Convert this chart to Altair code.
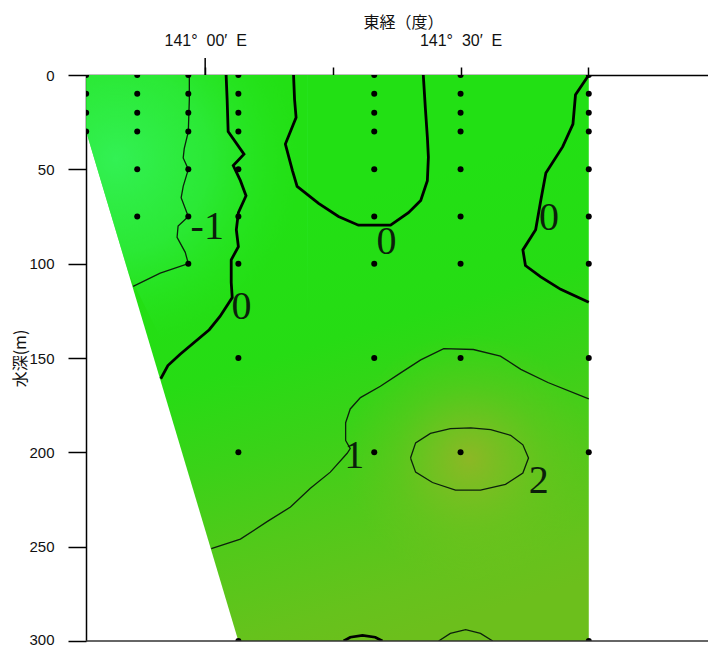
import json
import altair as alt
import pandas as pd

# ---------------- data ----------------
LON_MIN, LON_MAX = 140.7667, 141.9844
DEPTH_MAX = 300

NB = "\u00a0"
x_tick_values = [141.0, 141.25, 141.5, 141.75]
x_tick_labels = [f"141°{NB}{NB}00′{NB}{NB}E", "", f"141°{NB}{NB}30′{NB}{NB}E", ""]
y_tick_values = [0, 50, 100, 150, 200, 250, 300]

# observation stations (longitude) and their sampled depths (m)
station_lon = [140.767, 140.867, 140.967, 141.065, 141.331, 141.5, 141.751]
station_depths = [
    [0, 10, 20, 30],
    [0, 10, 20, 30, 50, 75],
    [0, 10, 20, 30, 50, 75, 100],
    [0, 10, 20, 30, 50, 75, 100, 150, 200, 300],
    [0, 10, 20, 30, 50, 75, 100, 150, 200],
    [0, 10, 20, 30, 50, 75, 100, 150, 200],
    [0, 10, 20, 30, 50, 75, 100, 150, 200, 300],
]

# section outline (sea floor on the west side)
region_lon = [140.767, 141.065, 141.751]
region_bottom = [30, 300, 300]

# shading zones
cold_lon = [140.767, 140.85, 140.95, 141.05, 141.2]
cold_bottom = [30, 105, 160, 165, 165]
warm_lon = [141.25, 141.751]
warm_top = [100, 100]
warm_bottom = [300, 300]

# contour lines (lon, depth)
c_m1_lon = [140.969, 140.969, 140.967, 140.959, 140.957, 140.967, 140.957, 140.953,
            140.967, 140.947, 140.945, 140.961, 140.967, 140.912, 140.859]
c_m1_dep = [0, 13, 30, 39, 44, 50, 59, 65, 75, 80, 86, 94, 100, 105, 112]

c_0a_lon = [141.041, 141.043, 141.045, 141.076, 141.055, 141.069, 141.080, 141.065,
            141.061, 141.065, 141.051, 141.051, 141.053, 141.029, 141.008, 140.951,
            140.927, 140.913]
c_0a_dep = [0, 13, 30, 42, 48, 56, 64, 73, 82, 91, 98, 110, 118, 128, 135, 148, 154, 161]

c_0b_lon = [141.173, 141.175, 141.178, 141.157, 141.171, 141.180, 141.222, 141.261,
            141.300, 141.363, 141.398, 141.422, 141.435, 141.437, 141.435, 141.431, 141.427]
c_0b_dep = [0, 13, 22.5, 36.6, 50.8, 59, 68, 75, 79.6, 79.6, 73, 66.5, 56, 43.5, 33, 17.3, 0]

c_0c_lon = [141.751, 141.725, 141.720, 141.700, 141.667, 141.657, 141.647, 141.622,
            141.627, 141.657, 141.696, 141.751]
c_0c_dep = [0, 10.5, 26, 38, 52, 66.5, 82, 92.7, 101, 107, 113.6, 120.4]

c_1_lon = [141.012, 141.069, 141.122, 141.167, 141.206, 141.245, 141.278, 141.284,
           141.275, 141.275, 141.284, 141.304, 141.343, 141.382, 141.422, 141.467,
           141.525, 141.578, 141.618, 141.671, 141.751]
c_1_dep = [251, 246, 236.6, 229, 219, 210.5, 200.5, 198, 193.7, 184.3, 177, 171, 165,
           158, 151, 145, 145.5, 149, 156, 163, 171.7]

c_2_lon = [141.402, 141.412, 141.441, 141.480, 141.520, 141.559, 141.598, 141.622,
           141.633, 141.622, 141.588, 141.539, 141.490, 141.445, 141.412, 141.402]
c_2_dep = [203, 195, 190, 187.4, 187, 188, 191, 196, 203, 211, 217, 220, 220, 216, 210.5, 203]

c_b1_lon = [141.271, 141.284, 141.308, 141.333, 141.347]
c_b1_dep = [300, 298, 297, 298, 300]
c_b2_lon = [141.457, 141.480, 141.510, 141.539, 141.563]
c_b2_dep = [300, 296, 294, 296, 300]

label_text = ["-1", "0", "0", "0", "1", "2"]
label_lon = [141.004, 141.071, 141.355, 141.673, 141.292, 141.653]
label_dep = [80.6, 123, 88.5, 76, 202, 215]

# ---------------- tables ----------------
stations = pd.DataFrame(
    [(lon, d) for lon, ds in zip(station_lon, station_depths) for d in ds],
    columns=["lon", "depth"],
)
region = pd.DataFrame({"lon": region_lon, "top": [0] * len(region_lon), "bottom": region_bottom})
cold = pd.DataFrame({"lon": cold_lon, "top": [0] * len(cold_lon), "bottom": cold_bottom})
warm = pd.DataFrame({"lon": warm_lon, "top": warm_top, "bottom": warm_bottom})


def contour_table(lines):
    rows = []
    for cid, (lons, deps) in lines.items():
        for i, (lo, de) in enumerate(zip(lons, deps)):
            rows.append({"id": cid, "seq": i, "lon": lo, "depth": de})
    return pd.DataFrame(rows)


thick = contour_table({"0a": (c_0a_lon, c_0a_dep), "0b": (c_0b_lon, c_0b_dep),
                       "0c": (c_0c_lon, c_0c_dep), "b1": (c_b1_lon, c_b1_dep)})
thin = contour_table({"m1": (c_m1_lon, c_m1_dep), "1": (c_1_lon, c_1_dep),
                      "2": (c_2_lon, c_2_dep), "b2": (c_b2_lon, c_b2_dep)})
labels = pd.DataFrame({"text": label_text, "lon": label_lon, "depth": label_dep})

# ---------------- axes / scales ----------------
PLOT_W, PLOT_H = 622, 566

label_expr = (f"{json.dumps(x_tick_labels, ensure_ascii=False)}"
              f"[indexof({json.dumps(x_tick_values)}, datum.value)]")

x_axis = alt.Axis(
    orient="top", values=x_tick_values, labelExpr=label_expr,
    title="東経（度）", titleFont="Noto Sans CJK JP", titleFontSize=16,
    titleFontWeight="normal", titleColor="#111", titleX=317, titleY=-53,
    titleAlign="center", titleBaseline="middle", titleAngle=0,
    tickSize=8, tickColor="black", tickWidth=1.5,
    domainColor="black", domainWidth=1.5,
    labelFont="Liberation Sans", labelFontSize=16, labelColor="#111",
    labelPadding=22, labelBaseline="alphabetic", labelFlush=False,
    labelOverlap=False, grid=False,
)
y_axis = alt.Axis(
    orient="left", values=y_tick_values,
    title="水深(m)", titleFont="Noto Sans CJK JP", titleFontSize=16,
    titleFontWeight="normal", titleColor="#111", titleX=-66, titleY=PLOT_H / 2,
    titleAngle=270, titleAlign="center", titleBaseline="middle",
    tickSize=18, tickColor="black", tickWidth=1.5,
    domainColor="black", domainWidth=1.5,
    labelFont="Liberation Sans", labelFontSize=15, labelColor="#111",
    labelOffset={"condition": {"test": f"datum.value == {DEPTH_MAX}", "value": -2}, "value": 0},
    labelPadding=14, labelFlush=False, grid=False,
)
x_scale = alt.Scale(domain=[LON_MIN, LON_MAX], nice=False, zero=False)
y_scale = alt.Scale(domain=[0, DEPTH_MAX], nice=False, zero=False, reverse=True)


def X(field):
    return alt.X(f"{field}:Q", scale=x_scale, axis=x_axis)


def Y(field):
    return alt.Y(f"{field}:Q", scale=y_scale, axis=y_axis)


base_fill = {
    "gradient": "linear", "x1": 0.4, "y1": 0.25, "x2": 0.6, "y2": 1.0,
    "stops": [
        {"offset": 0.0, "color": "#22e014"},
        {"offset": 0.3, "color": "#26dc14"},
        {"offset": 0.5, "color": "#3ad218"},
        {"offset": 0.7, "color": "#52c91a"},
        {"offset": 0.9, "color": "#66c21c"},
        {"offset": 1.0, "color": "#6cbf1c"},
    ],
}
cold_fill = {
    "gradient": "radial", "x1": 0.241, "y1": 0.27, "r1": 0,
    "x2": 0.241, "y2": 0.27, "r2": 0.6,
    "stops": [
        {"offset": 0.0, "color": "rgba(55,245,100,0.8)"},
        {"offset": 0.5, "color": "rgba(50,240,80,0.55)"},
        {"offset": 0.8, "color": "rgba(45,235,55,0.22)"},
        {"offset": 1.0, "color": "rgba(40,230,40,0)"},
    ],
}
warm_fill = {
    "gradient": "radial", "x1": 0.522, "y1": 0.516, "r1": 0,
    "x2": 0.522, "y2": 0.516, "r2": 0.33,
    "stops": [
        {"offset": 0.0, "color": "rgba(165,176,42,0.72)"},
        {"offset": 0.3, "color": "rgba(150,182,40,0.5)"},
        {"offset": 0.6, "color": "rgba(135,186,35,0.25)"},
        {"offset": 1.0, "color": "rgba(120,190,30,0)"},
    ],
}

# ---------------- layers ----------------
base_area = alt.Chart(region).mark_area(fill=base_fill, strokeWidth=0).encode(
    x=X("lon"), y=Y("top"), y2="bottom:Q")
cold_area = alt.Chart(cold).mark_area(fill=cold_fill, strokeWidth=0).encode(
    x=X("lon"), y=Y("top"), y2="bottom:Q")
warm_area = alt.Chart(warm).mark_area(fill=warm_fill, strokeWidth=0).encode(
    x=X("lon"), y=Y("top"), y2="bottom:Q")

thin_lines = alt.Chart(thin).mark_line(color="#0c200c", strokeWidth=1.3, clip=True).encode(
    x=X("lon"), y=Y("depth"), detail="id:N", order="seq:Q")
thick_lines = alt.Chart(thick).mark_line(color="black", strokeWidth=2.8, clip=True).encode(
    x=X("lon"), y=Y("depth"), detail="id:N", order="seq:Q")

dots = alt.Chart(stations).mark_circle(size=36, color="black", opacity=1, clip=True).encode(
    x=X("lon"), y=Y("depth"))

texts = alt.Chart(labels).mark_text(font="Liberation Serif", fontSize=40, color="#0b1f0b",
                                    align="center", baseline="middle").encode(
    x=X("lon"), y=Y("depth"), text="text:N")

long_tick = alt.Chart(pd.DataFrame({"lon": [x_tick_values[0]]})).mark_rule(
    color="black", strokeWidth=1.5).encode(x=X("lon"), y=alt.value(-17), y2=alt.value(0))
bottom_line = alt.Chart(pd.DataFrame({"depth": [DEPTH_MAX]})).mark_rule(
    color="#333", strokeWidth=1.5).encode(y=Y("depth"))

chart = alt.layer(
    base_area, cold_area, warm_area, thin_lines, thick_lines, dots, texts, long_tick, bottom_line
).properties(
    width=PLOT_W, height=PLOT_H,
    autosize=alt.AutoSizeParams(type="none"),
    padding={"left": 78, "top": 67, "right": 0, "bottom": 6},
).configure_view(stroke=None)

chart.save("out.html", embed_options={"renderer": "svg", "actions": False})
